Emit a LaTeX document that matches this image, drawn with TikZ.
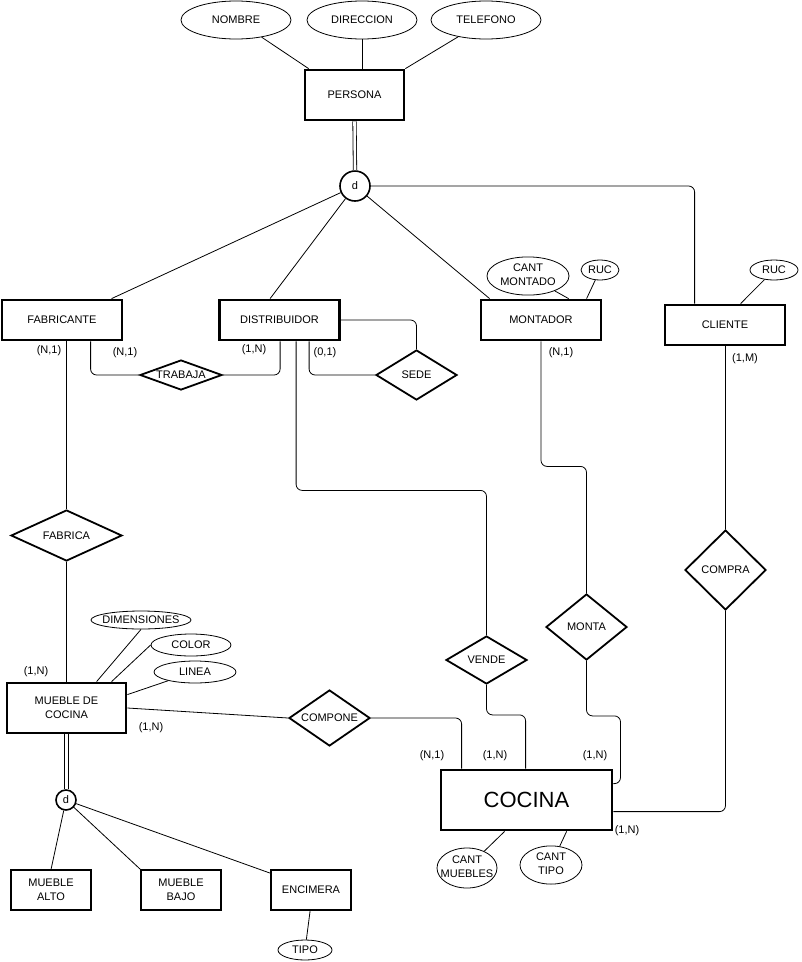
\documentclass[tikz,border=0pt]{standalone}
\usepackage{fontspec}
\setmainfont{Liberation Sans}
\usetikzlibrary{shapes.geometric,calc}
\newcommand{\zw}[1]{\makebox[0pt]{#1}}
\newcommand{\twol}[2]{\zw{\begin{tabular}{@{}c@{}}#1\\#2\end{tabular}}}
\begin{document}
\begin{tikzpicture}[x=1pt,y=-1pt,
  txt/.style={font=\fontsize{11}{13.5}\selectfont},
  entity/.style={txt,draw,rectangle,line width=2.8pt,inner sep=0pt,align=center},
  subent/.style={txt,draw,rectangle,line width=1.8pt,inner sep=0pt,align=center,minimum width=80,minimum height=40},
  attr/.style={txt,draw,ellipse,line width=0.8pt,inner sep=0pt},
  rel/.style={txt,draw,diamond,line width=1.8pt,inner sep=0pt},
  spec/.style={txt,draw,circle,line width=1.6pt,inner sep=0pt},
  card/.style={txt,inner sep=0pt},
  conn/.style={draw,line width=0.8pt,rounded corners=6pt},
  dbl/.style={draw,double,double distance=2.6pt,line width=0.8pt}
]
\useasboundingbox (0,0) rectangle (802,962);

% attributes of PERSONA
\node[attr,minimum width=110,minimum height=38] (nombre) at (236,20) {NOMBRE};
\node[attr,minimum width=110,minimum height=38] (direccion) at (362,20) {DIRECCION};
\node[attr,minimum width=110,minimum height=38] (telefono) at (486,20) {TELEFONO};

\node[entity,minimum width=99,minimum height=50] (persona) at (354.5,95) {PERSONA};
\node[spec,minimum size=30] (d1) at (355,186) {d};

\node[entity,minimum width=120,minimum height=40] (fab) at (62,320) {FABRICANTE};
\node[entity,minimum width=120,minimum height=40] (dist) at (279.5,320) {DISTRIBUIDOR};
\node[entity,minimum width=120,minimum height=40] (mont) at (541,320) {MONTADOR};
\node[entity,minimum width=120,minimum height=40] (cli) at (725,325) {CLIENTE};

\node[attr,minimum width=82,minimum height=30] (cantm) at (528,276) {\twol{CANT}{MONTADO}};
\node[attr,minimum width=38,minimum height=20] (ruc1) at (600,270) {RUC};
\node[attr,minimum width=48,minimum height=20] (ruc2) at (774,270) {RUC};

\node[rel,minimum width=82,minimum height=30] (trabaja) at (181,375) {\zw{TRABAJA}};
\node[rel,minimum width=81,minimum height=50] (sede) at (416.5,375) {\zw{SEDE}};
\node[rel,minimum width=111,minimum height=51] (fabrica) at (66.5,535.5) {\zw{FABRICA}};
\node[rel,minimum width=81,minimum height=48] (vende) at (486.5,660) {\zw{VENDE}};
\node[rel,minimum width=81,minimum height=66] (monta) at (586.5,627) {\zw{MONTA}};
\node[rel,minimum width=81,minimum height=80] (compra) at (725.5,570) {\zw{COMPRA}};
\node[rel,minimum width=81,minimum height=56] (compone) at (329.5,718) {\zw{COMPONE}};

\node[entity,minimum width=119,minimum height=50] (mueble) at (66.5,708) {MUEBLE DE\\COCINA};
\node[attr,minimum width=100,minimum height=18] (dim) at (141,620) {\zw{DIMENSIONES}};
\node[attr,minimum width=80,minimum height=22] (color) at (191,645) {COLOR};
\node[attr,minimum width=82,minimum height=22] (linea) at (195,672) {LINEA};

\node[spec,minimum size=20] (d2) at (66,800) {d};
\node[subent] (alto) at (51,890) {MUEBLE\\ALTO};
\node[subent] (bajo) at (181,890) {MUEBLE\\BAJO};
\node[subent] (enc) at (311,890) {ENCIMERA};
\node[attr,minimum width=54,minimum height=20] (tipo) at (305,950) {TIPO};

\node[entity,minimum width=171,minimum height=60,font=\fontsize{22}{26}\selectfont] (cocina) at (526.5,800) {COCINA};
\node[attr,minimum width=60,minimum height=40] (cantmu) at (467,868) {\twol{CANT}{MUEBLES}};
\node[attr,minimum width=62,minimum height=30] (cantt) at (551,865) {\twol{CANT}{TIPO}};

% cardinalities
\node[card] (c1) at (49,351) {(N,1)};
\node[card] (c2) at (125,353) {(N,1)};
\node[card] (c3) at (254,350) {(1,N)};
\node[card] (c4) at (325,353) {(0,1)};
\node[card] (c5) at (561,353) {(N,1)};
\node[card] (c6) at (745,359) {(1,M)};
\node[card] (c7) at (36,672) {(1,N)};
\node[card] (c8) at (151,728) {(1,N)};
\node[card] (c9) at (432,756) {(N,1)};
\node[card] (c10) at (495,756) {(1,N)};
\node[card] (c11) at (595,756) {(1,N)};
\node[card] (c12) at (627,831) {(1,N)};

% connectors
\draw[conn] (nombre) -- ([xshift=5pt]persona.north west);
\draw[conn] (direccion.south) -- (direccion.south |- persona.north);
\draw[conn] (telefono) -- (persona.north east);
\draw[dbl] (persona.south) -- (d1.north);
\draw[conn] (d1) -- ([xshift=111pt]fab.north west);
\draw[conn] (d1) -- ([xshift=52pt]dist.north west);
\draw[conn] (d1) -- ([xshift=10pt]mont.north west);
\draw[conn] (d1.east) -| ([xshift=31pt]cli.north west);
\draw[conn] (cantm) -- ([xshift=89pt]mont.north west);
\draw[conn] (ruc1) -- ([xshift=107pt]mont.north west);
\draw[conn] (ruc2) -- ([xshift=77pt]cli.north west);

\draw[conn] ([xshift=90pt]fab.south west) |- (trabaja.west);
\draw[conn] (trabaja.east) -| ([xshift=62pt]dist.south west);
\draw[conn] (dist.east) -| (sede.north);
\draw[conn] ([xshift=91pt]dist.south west) |- (sede.west);
\draw[conn] (fab.south -| fabrica.north) -- (fabrica.north);
\draw[conn] (fabrica.south) -- (fabrica.south |- mueble.north);
\draw[conn] ([xshift=78pt]dist.south west) -- ++(0,149) -| (vende.north);
\draw[conn] (mont.south) -- ++(0,125) -| (monta.north);
\draw[conn] (monta.south) -- ++(0,55) -- ++(34,0) |- ([yshift=-15pt]cocina.north east);
\draw[conn] (vende.south) -- ++(0,30) -| ([xshift=86pt]cocina.north west);
\draw[conn] (mueble.east) -- (compone.west);
\draw[conn] (compone.east) -| ([xshift=22pt]cocina.north west);
\draw[conn] (cli.south) -- (cli.south |- compra.north);
\draw[conn] (compra.south) |- ([yshift=-43pt]cocina.north east);

\draw[conn] (dim.south) -- ([xshift=91pt]mueble.north west);
\draw[conn] (color.west) -- ([xshift=106pt]mueble.north west);
\draw[conn] (linea.198) -- ([yshift=-13pt]mueble.north east);
\draw[dbl] (mueble.south) -- (mueble.south |- d2.north);
\draw[conn] (d2) -- ([xshift=41pt]alto.north west);
\draw[conn] (d2) -- (bajo.north west);
\draw[conn] (d2) -- ([yshift=-4pt]enc.north west);
\draw[conn] (tipo) -- ([xshift=40pt]enc.south west);
\draw[conn] (cantmu) -- ([xshift=65pt]cocina.south west);
\draw[conn] (cantt) -- ([xshift=127pt]cocina.south west);
\end{tikzpicture}
\end{document}
